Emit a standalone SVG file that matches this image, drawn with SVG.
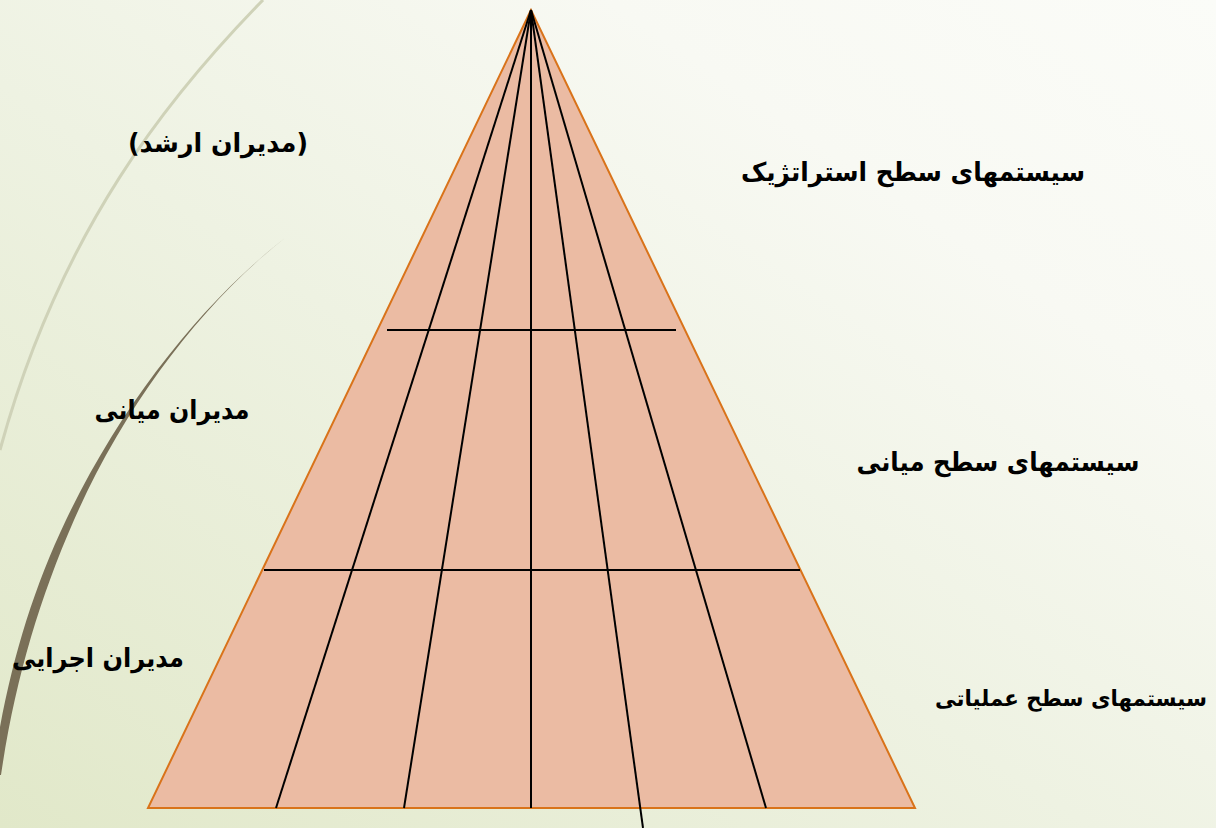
<svg xmlns="http://www.w3.org/2000/svg" width="1216" height="828" viewBox="0 0 1216 828">
<defs>
<linearGradient id="bg" x1="0" y1="1" x2="1" y2="0">
<stop offset="0" stop-color="#e1e8c9"/>
<stop offset="0.45" stop-color="#eef2e2"/>
<stop offset="0.75" stop-color="#f8f9f3"/>
<stop offset="1" stop-color="#fbfcf8"/>
</linearGradient>
<style>
.lbl{font-family:"DejaVu Sans",sans-serif;font-weight:bold;font-size:26px;fill:#000;text-anchor:middle}
.grid{stroke:#000;stroke-width:2;fill:none}
</style>
</defs>
<rect width="1216" height="828" fill="url(#bg)"/>
<g id="decor">
<path d="M263,0 C170,95 60,230 0,450" fill="none" stroke="#cfd2b8" stroke-width="3"/>
<path d="M285,238 C204,301 123,401 66,520 C28,600 6,680 -8,775 L1,775 C15,680 39,600 74,520 C127,400 206,300 285,238 Z" fill="#7a7058"/>
</g>
<g id="pyramid">
<polygon points="531,10 148,808 915,808" fill="#ebbba3" stroke="#d9731a" stroke-width="2"/>
<g class="grid">
<line x1="387" y1="330" x2="676" y2="330"/>
<line x1="264" y1="570" x2="800" y2="570"/>
<line x1="531" y1="10" x2="276" y2="808"/>
<line x1="531" y1="10" x2="404" y2="808"/>
<line x1="531" y1="10" x2="531" y2="808"/>
<line x1="531" y1="10" x2="643" y2="828"/>
<line x1="531" y1="10" x2="766" y2="808"/>
</g>
</g>
<g id="labels">
<text class="lbl" x="218" y="152" textLength="180" lengthAdjust="spacingAndGlyphs">(مدیران ارشد)</text>
<text class="lbl" x="913" y="181" textLength="344" lengthAdjust="spacingAndGlyphs">سیستمهای سطح استراتژیک</text>
<text class="lbl" x="172" y="419" textLength="155" lengthAdjust="spacingAndGlyphs">مدیران میانی</text>
<text class="lbl" x="998" y="471" textLength="283" lengthAdjust="spacingAndGlyphs">سیستمهای سطح میانی</text>
<text class="lbl" x="98" y="667" textLength="172" lengthAdjust="spacingAndGlyphs">مدیران اجرایی</text>
<text class="lbl" x="1071" y="706" style="font-size:22px" textLength="272" lengthAdjust="spacingAndGlyphs">سیستمهای سطح عملیاتی</text>
</g>
</svg>
